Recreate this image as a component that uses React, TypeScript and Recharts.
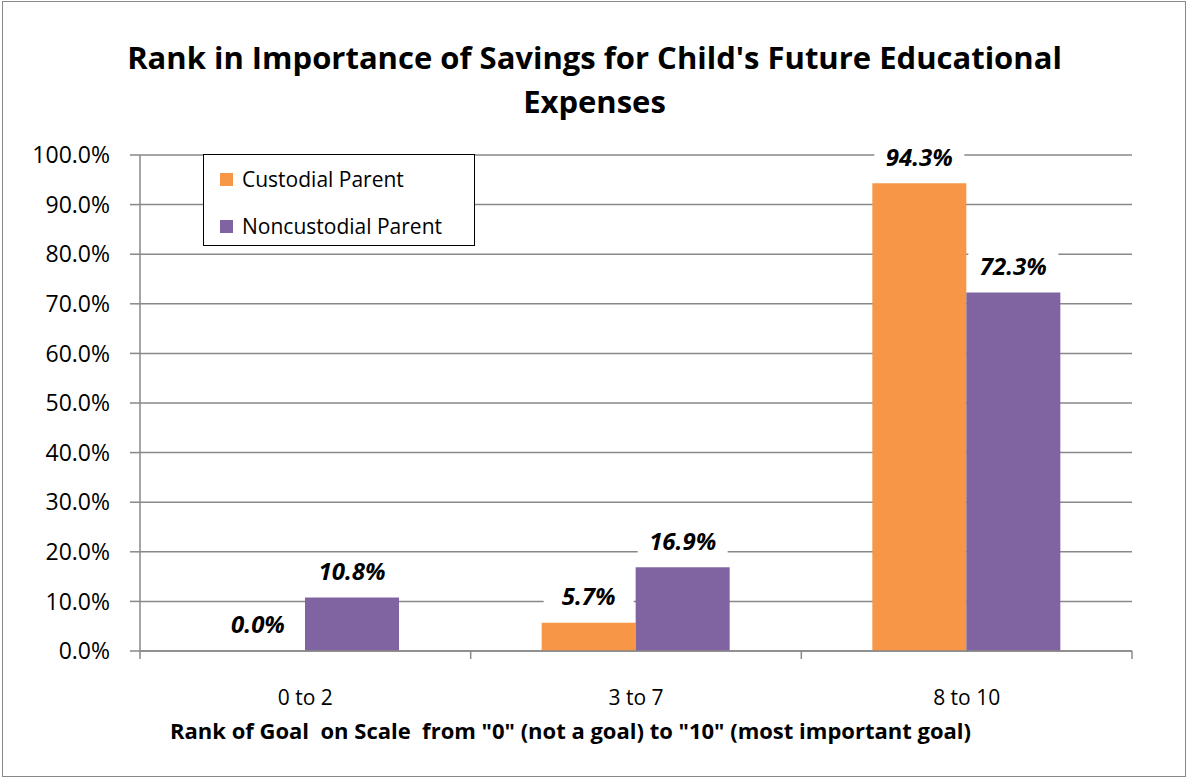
import React from 'react';
import { BarChart, Bar, XAxis, YAxis, CartesianGrid } from 'recharts';

const categories = ['0 to 2', '3 to 7', '8 to 10'];
const custodial = [0.0, 5.7, 94.3];
const noncustodial = [10.8, 16.9, 72.3];
const yTicks = [0, 10, 20, 30, 40, 50, 60, 70, 80, 90, 100];

const data = categories.map((name, i) => ({
  name,
  custodial: custodial[i],
  noncustodial: noncustodial[i],
}));

const FONT = '"Open Sans", Lato, sans-serif';
const GRID = '#888888';
const ORANGE = '#F79646';
const PURPLE = '#8064A2';

const W = 1189;
const H = 781;
const MARGIN = { top: 155, right: 57, bottom: 70, left: 0 };
const Y_AXIS_W = 140;
const X_AXIS_H = 60;
const PLOT_BOTTOM = H - MARGIN.bottom - X_AXIS_H;
const HALF_BAND = (W - Y_AXIS_W - MARGIN.right) / categories.length / 2;

// a 0% bar gets dropped by recharts along with its label, so give it a hair of height
const keepZero = (value: any) => (Number(value) === 0 ? 0.01 : 0);

const renderValueLabel = (props: any) => {
  const { x, y, width, height, value } = props;
  const cx = x + width / 2;
  const top = Math.min(y, y + (height || 0));
  const cy = top - 27;
  return (
    <g>
      <rect x={cx - 45} y={cy - 15} width={90} height={30} fill="#fff" />
      <text
        x={cx}
        y={cy}
        textAnchor="middle"
        dominantBaseline="central"
        fontFamily={FONT}
        fontWeight={700}
        fontStyle="italic"
        fontSize={24}
        fill="#000"
      >
        {`${Number(value).toFixed(1)}%`}
      </text>
    </g>
  );
};

// category ticks sit between the bands, like the Excel original
const CategoryTick = (props: any) => {
  const { x, payload, index } = props;
  const last = index === categories.length - 1;
  return (
    <g>
      <line x1={x - HALF_BAND} x2={x - HALF_BAND} y1={PLOT_BOTTOM} y2={PLOT_BOTTOM + 8} stroke={GRID} strokeWidth={1.5} />
      {last && (
        <line x1={x + HALF_BAND} x2={x + HALF_BAND} y1={PLOT_BOTTOM} y2={PLOT_BOTTOM + 8} stroke={GRID} strokeWidth={1.5} />
      )}
      <text x={x} y={PLOT_BOTTOM + 46} textAnchor="middle" dominantBaseline="central" fontFamily={FONT} fontSize={21} fill="#000">
        {payload.value}
      </text>
    </g>
  );
};

const LegendBox = () => (
  <div
    style={{
      position: 'absolute',
      left: 203,
      top: 154,
      width: 272,
      height: 92,
      border: '1px solid #000',
      background: '#fff',
      boxSizing: 'border-box',
      fontFamily: FONT,
      fontSize: 21,
      color: '#000',
      padding: '11px 0 0 16px',
    }}
  >
    <div style={{ display: 'flex', alignItems: 'center', height: 26 }}>
      <span style={{ width: 13, height: 13, background: ORANGE, marginRight: 9 }} />
      Custodial Parent
    </div>
    <div style={{ display: 'flex', alignItems: 'center', height: 26, marginTop: 21 }}>
      <span style={{ width: 13, height: 13, background: PURPLE, marginRight: 9 }} />
      Noncustodial Parent
    </div>
  </div>
);

export default function App() {
  return (
    <div style={{ position: 'absolute', left: 0, top: 0, width: W, height: H, background: '#fff' }}>
      <div
        style={{
          position: 'absolute',
          left: 2,
          top: 1,
          width: 1184,
          height: 776,
          border: '1px solid #888',
          boxSizing: 'border-box',
        }}
      />
      <div
        style={{
          position: 'absolute',
          left: 0,
          top: 35,
          width: W,
          textAlign: 'center',
          fontFamily: FONT,
          fontWeight: 700,
          fontSize: 31,
          lineHeight: '44px',
          color: '#000',
        }}
      >
        Rank in Importance of Savings for Child's Future Educational
        <br />
        Expenses
      </div>
      <div
        style={{
          position: 'absolute',
          left: 170,
          top: 715,
          fontFamily: FONT,
          fontWeight: 700,
          fontSize: 22,
          color: '#000',
          whiteSpace: 'pre',
        }}
      >
        {'Rank of Goal  on Scale  from "0" (not a goal) to "10" (most important goal)'}
      </div>
      <BarChart
        width={W}
        height={H}
        data={data}
        margin={MARGIN}
        barGap={0}
        style={{ position: 'absolute', left: 0, top: 0 }}
      >
        <CartesianGrid vertical={false} stroke={GRID} strokeWidth={1.5} />
        <XAxis
          dataKey="name"
          height={X_AXIS_H}
          stroke={GRID}
          strokeWidth={1.5}
          tickLine={false}
          interval={0}
          tick={<CategoryTick />}
        />
        <YAxis
          width={Y_AXIS_W}
          domain={[0, 100]}
          ticks={yTicks}
          interval={0}
          stroke={GRID}
          strokeWidth={1.5}
          tickSize={10}
          tickMargin={20}
          tickFormatter={(v: number) => `${v.toFixed(1)}%`}
          tick={{ fill: '#000', fontFamily: FONT, fontSize: 23 }}
        />
        <Bar
          dataKey="custodial"
          name="Custodial Parent"
          fill={ORANGE}
          barSize={94}
          minPointSize={keepZero}
          isAnimationActive={false}
          label={renderValueLabel}
        />
        <Bar
          dataKey="noncustodial"
          name="Noncustodial Parent"
          fill={PURPLE}
          barSize={94}
          minPointSize={keepZero}
          isAnimationActive={false}
          label={renderValueLabel}
        />
      </BarChart>
      <LegendBox />
    </div>
  );
}
